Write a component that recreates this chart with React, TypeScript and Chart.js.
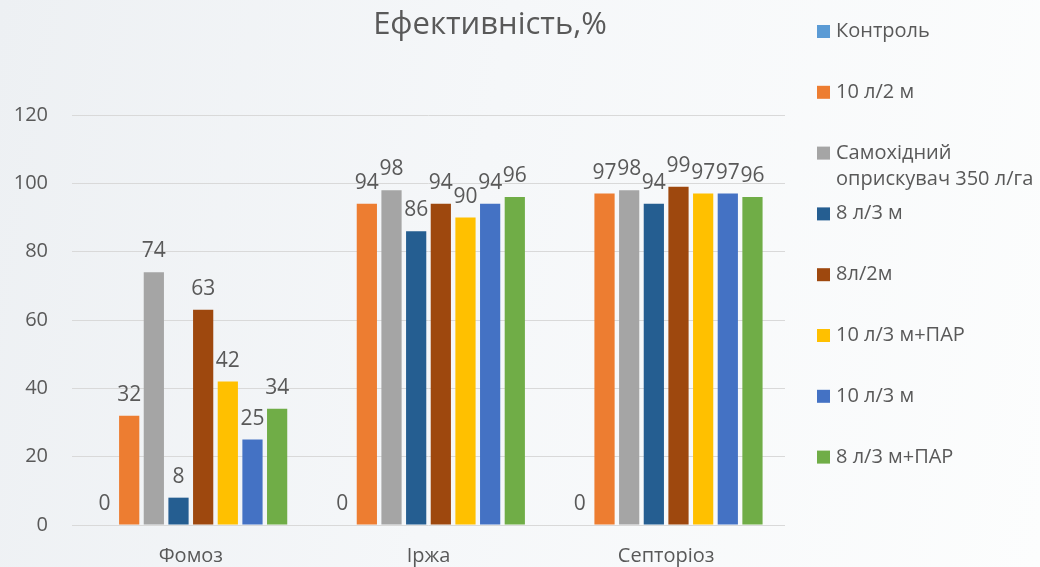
import React, { useEffect, useRef } from "react";
import { Chart, registerables } from "chart.js";

Chart.register(...registerables);

const titleText = "Ефективність,%";
const categories = ["Фомоз", "Іржа", "Септоріоз"];
const seriesNames = [
  ["Контроль"],
  ["10 л/2 м"],
  ["Самохідний", "оприскувач 350 л/га"],
  ["8 л/3 м"],
  ["8л/2м"],
  ["10 л/3 м+ПАР"],
  ["10 л/3 м"],
  ["8 л/3 м+ПАР"],
];
const seriesColors = [
  "#5B9BD5",
  "#ED7D31",
  "#A5A5A5",
  "#255E91",
  "#9E480E",
  "#FFC000",
  "#4472C4",
  "#70AD47",
];
const kontrol = [0, 0, 0];
const l10m2 = [32, 94, 97];
const samokhidnyi = [74, 98, 98];
const l8m3 = [8, 86, 94];
const l8m2 = [63, 94, 99];
const l10m3par = [42, 90, 97];
const l10m3 = [25, 94, 97];
const l8m3par = [34, 96, 96];
const seriesValues = [kontrol, l10m2, samokhidnyi, l8m3, l8m2, l10m3par, l10m3, l8m3par];
const yTicks = [0, 20, 40, 60, 80, 100, 120];

const FONT = "'Open Sans', 'Noto Sans', sans-serif";
const TEXT = "#595959";

const overlayPlugin = {
  id: "overlay",
  afterDatasetsDraw(chart: any) {
    const ctx = chart.ctx;
    ctx.save();
    // value labels above each bar
    ctx.fillStyle = TEXT;
    ctx.font = `21px ${FONT}`;
    ctx.textAlign = "center";
    ctx.textBaseline = "alphabetic";
    chart.data.datasets.forEach((ds: any, i: number) => {
      const meta = chart.getDatasetMeta(i);
      meta.data.forEach((el: any, j: number) => {
        ctx.fillText(String(ds.data[j]), el.x, el.y - 15);
      });
    });
    // title
    ctx.font = `31px ${FONT}`;
    ctx.fillText(titleText, 490, 34);
    // legend
    ctx.textAlign = "left";
    ctx.font = `20px ${FONT}`;
    seriesNames.forEach((lines, i) => {
      const base = 37 + i * 60.8;
      ctx.fillStyle = seriesColors[i];
      ctx.fillRect(817, base - 12, 13, 13);
      ctx.fillStyle = TEXT;
      lines.forEach((line, k) => {
        ctx.fillText(line, 836, base + k * 26);
      });
    });
    ctx.restore();
  },
};

export default function App() {
  const ref = useRef<HTMLCanvasElement | null>(null);

  useEffect(() => {
    if (!ref.current) return;
    const chart = new Chart(ref.current, {
      type: "bar",
      data: {
        labels: categories,
        datasets: seriesValues.map((vals, i) => ({
          label: seriesNames[i].join(" "),
          data: vals,
          backgroundColor: seriesColors[i],
          borderWidth: 0,
          categoryPercentage: 0.83,
          barPercentage: 0.82,
        })),
      },
      options: {
        animation: false,
        responsive: false,
        maintainAspectRatio: false,
        layout: { padding: { top: 115, right: 255, left: 0, bottom: 0 } },
        plugins: {
          legend: { display: false },
          title: { display: false },
          tooltip: { enabled: false },
        },
        scales: {
          x: {
            grid: { display: false },
            border: { display: false },
            ticks: { color: TEXT, font: { family: FONT, size: 20 }, padding: 11 },
            afterFit: (s: any) => {
              s.height = 42;
            },
          },
          y: {
            min: 0,
            max: 120,
            afterBuildTicks: (s: any) => {
              s.ticks = yTicks.map((v) => ({ value: v }));
            },
            grid: { color: "#D9D9D9", lineWidth: 1, drawTicks: false },
            border: { display: false },
            ticks: { color: TEXT, font: { family: FONT, size: 20 }, padding: 24 },
            afterFit: (s: any) => {
              s.width = 72;
            },
          },
        },
      },
      plugins: [overlayPlugin],
    });
    return () => chart.destroy();
  }, []);

  return (
    <div
      style={{
        position: "fixed",
        left: 0,
        top: 0,
        width: 1040,
        height: 567,
        background: "linear-gradient(100deg, #edf0f3 0%, #f5f7f9 45%, #fcfdfd 100%)",
      }}
    >
      <canvas ref={ref} width={1040} height={567} style={{ display: "block" }} />
    </div>
  );
}
